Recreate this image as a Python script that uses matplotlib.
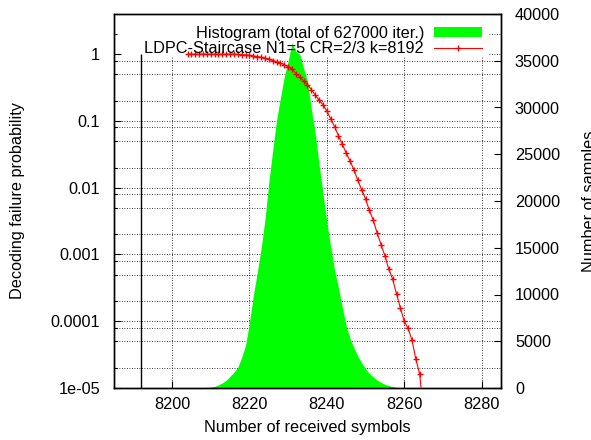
import matplotlib
matplotlib.use("Agg")
import matplotlib.pyplot as plt
from matplotlib.patches import Patch, Rectangle
from matplotlib.lines import Line2D
from matplotlib.ticker import FixedLocator, FixedFormatter, LogLocator, NullFormatter
from matplotlib.transforms import blended_transform_factory

plt.rcParams['font.family'] = ['Liberation Sans', 'DejaVu Sans']
FS = 11.7

# Histogram: number of decoding runs that needed a given number of received symbols
hist_symbols = list(range(8205, 8261))
hist_counts = [
    10, 20, 30, 50, 70,                                              # 8205-8209
    100, 180, 330, 550, 840, 1250, 1700, 2230, 3300, 4600,            # 8210-8219
    7000, 9900, 12300, 14900, 18000, 22000, 25400, 28660, 31000, 33300,  # 8220-8229
    35000, 36900, 36000, 35700, 34200, 32800, 29800, 27200, 23900, 20800,  # 8230-8239
    17700, 15100, 12600, 10700, 8600, 6650, 5300, 4300, 3400, 2700,   # 8240-8249
    2050, 1550, 1180, 850, 600, 400, 250, 150, 70, 30, 10,            # 8250-8260
]

# Decoding failure probability vs number of received symbols
fail_symbols = list(range(8204, 8266))
fail_prob = [
    1.0, 1.0, 1.0, 1.0, 1.0, 1.0, 1.0, 1.0, 1.0, 1.0, 1.0, 1.0, 1.0,   # 8204-8216
    0.993, 0.989, 0.977, 0.966, 0.944, 0.923, 0.902, 0.871, 0.841,      # 8217-8225
    0.804, 0.776, 0.741, 0.692, 0.646, 0.596, 0.513, 0.457, 0.398,     # 8226-8234
    0.347, 0.295, 0.245, 0.204, 0.175, 0.140, 0.108, 0.082, 0.0603,    # 8235-8243
    0.0447, 0.0331, 0.0251, 0.0186, 0.0129, 0.00933, 0.00676, 0.00457, # 8244-8251
    0.00324, 0.00209, 0.00141, 0.000955, 0.000603, 0.000427, 0.000257, # 8252-8258
    0.000158, 0.0001, 7.8e-5, 5.2e-5, 2.7e-5, 1.6e-5, 4e-6,           # 8259-8265
]

k_symbols = 8192          # number of source symbols
total_iter = 627000

x_ticks = [8200, 8220, 8240, 8260, 8280]
samples_ticks = list(range(0, 40001, 5000))
prob_ticks = [1e-5, 1e-4, 1e-3, 1e-2, 1e-1, 1]
prob_tick_labels = ['1e-05', '0.0001', '0.001', '0.01', '0.1', '1']

W, H = 591, 440
fig = plt.figure(figsize=(W / 100, H / 100), dpi=100)
ax = fig.add_axes([114 / W, 52 / H, 387 / W, 374 / H])   # samples (linear, right)
ax_p = ax.twinx()                                          # probability (log, left)

# --- linear samples axis on the right
ax.set_xlim(8185, 8285)
ax.set_ylim(0, 40000)
ax.yaxis.tick_right()
ax.yaxis.set_label_position('right')
ax.set_yticks(samples_ticks)
ax.set_xticks(x_ticks)
ax.tick_params(axis='y', which='both', direction='in', length=5, width=0.8,
               left=False, right=True, labelleft=False, labelright=True,
               pad=10, labelsize=FS)
ax.tick_params(axis='x', direction='in', length=5, width=0.8, top=True,
               bottom=True, pad=6.5, labelsize=FS)

# --- log probability axis on the left
ax_p.set_yscale('log')
ax_p.set_ylim(1e-5, 4)
ax_p.yaxis.tick_left()
ax_p.yaxis.set_label_position('left')
ax_p.yaxis.set_major_locator(FixedLocator(prob_ticks))
ax_p.yaxis.set_major_formatter(FixedFormatter(prob_tick_labels))
ax_p.yaxis.set_minor_locator(LogLocator(base=10, subs=(2.0, 5.0, 8.0)))
ax_p.yaxis.set_minor_formatter(NullFormatter())
ax_p.tick_params(axis='y', which='major', direction='in', length=5, width=0.8,
                 left=True, right=False, labelleft=True, labelright=False,
                 pad=10, labelsize=FS)
ax_p.tick_params(axis='y', which='minor', direction='in', length=2.5, width=0.8,
                 left=True, right=False)

for a in (ax, ax_p):
    for s in a.spines.values():
        s.set_linewidth(1.0)
        s.set_color('black')

# --- dotted grid: vertical from x ticks, horizontal from log ticks
grid_kw = dict(color='black', linewidth=0.6, linestyle=(0, (1, 2)))
ax.set_axisbelow(True)
ax.grid(axis='x', **grid_kw)
trans_h = blended_transform_factory(ax.transAxes, ax_p.transData)
lo, hi = ax_p.get_ylim()
levels = [v for v in list(ax_p.yaxis.get_majorticklocs()) + list(ax_p.yaxis.get_minorticklocs())
          if lo < v < hi]
for v in levels:
    ax.add_line(Line2D([0, 1], [v, v], transform=trans_h, zorder=0.6, **grid_kw))

# --- curves
ax.fill_between(hist_symbols, 0, hist_counts, color='#00ff00', linewidth=0, zorder=2)
ax_p.vlines(k_symbols, 1e-5, 1, color='black', linewidth=1.0, zorder=2)
ax_p.plot(fail_symbols, fail_prob, color='red', linewidth=0.8, marker='+',
          markersize=5, markeredgewidth=1.0, zorder=3, clip_on=True)

# --- labels
ax_p.set_ylabel('Decoding failure probability', fontsize=FS)
ax_p.yaxis.set_label_coords(-0.231, 0.5)
ax.set_ylabel('Number of samples', fontsize=FS)
ax.yaxis.set_label_coords(1.209, 0.5)
ax.set_xlabel('Number of received symbols', fontsize=FS)
ax.xaxis.set_label_coords(0.5, -0.086)

# --- key
handles = [Patch(facecolor='#00ff00', edgecolor='none'),
           Line2D([], [], color='red', linewidth=0.8, marker='+', markersize=5,
                  markeredgewidth=1.0)]
labels = [f'Histogram (total of {total_iter} iter.)',
          f'LDPC-Staircase N1=5 CR=2/3 k={k_symbols}']
leg = ax_p.legend(handles, labels, loc='upper right', bbox_to_anchor=(0.950, 0.968),
                  frameon=False, markerfirst=False, fontsize=FS, handlelength=2.95,
                  handletextpad=0.6, labelspacing=0.0, borderpad=0, borderaxespad=0,
                  handleheight=0.6)
leg.set_zorder(5)

# blank the grid behind the key
fig.canvas.draw()
bb = leg.get_window_extent().transformed(ax.transAxes.inverted())
ax.add_patch(Rectangle((0, bb.y0 - 0.004), bb.x1 + 0.02, 1 - bb.y0 + 0.004,
                       transform=ax.transAxes, facecolor='white', edgecolor='none',
                       zorder=1))

fig.savefig('out.png', dpi=100)
